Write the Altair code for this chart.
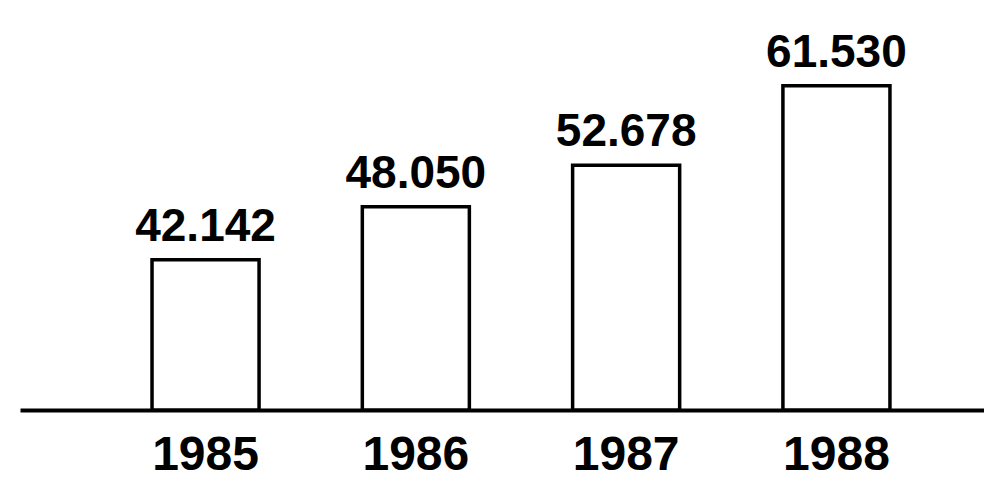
import altair as alt
import pandas as pd

years = ["1985", "1986", "1987", "1988"]
values = [42.142, 48.050, 52.678, 61.530]
labels = ["42.142", "48.050", "52.678", "61.530"]

y_min = 25.4
y_max = 70.2

df = pd.DataFrame({"year": years, "value": values, "label": labels})

x_enc = alt.X(
    "year:N",
    sort=years,
    scale=alt.Scale(paddingInner=0.491, paddingOuter=0.5375, align=0.584),
    axis=alt.Axis(
        title=None,
        ticks=False,
        grid=False,
        domainColor="black",
        domainWidth=4,
        labelFont="Liberation Sans",
        labelFontWeight="bold",
        labelFontSize=48,
        labelColor="black",
        labelBaseline="alphabetic",
        labelPadding=59,
        labelAngle=0,
    ),
)
y_scale = alt.Scale(domain=[y_min, y_max], zero=False, nice=False)

bars = alt.Chart(df).mark_bar(
    fill="white", stroke="black", strokeWidth=3.5
).encode(
    x=x_enc,
    y=alt.Y("value:Q", scale=y_scale, axis=None),
    y2=alt.datum(y_min),
)

text = alt.Chart(df).mark_text(
    font="Liberation Sans",
    fontWeight="bold",
    fontSize=46,
    baseline="alphabetic",
    dy=-19,
    color="black",
).encode(
    x=alt.X("year:N", sort=years),
    y=alt.Y("value:Q", scale=y_scale, axis=None),
    text="label:N",
)

chart = (
    alt.layer(bars, text)
    .properties(
        width=964,
        height=402,
        padding={"left": 12, "top": 0, "right": 0, "bottom": 70},
        autosize=alt.AutoSizeParams(type="none"),
        background="white",
    )
    .configure_view(stroke=None)
)

chart.save("out.html", embed_options={"renderer": "svg", "actions": False})
